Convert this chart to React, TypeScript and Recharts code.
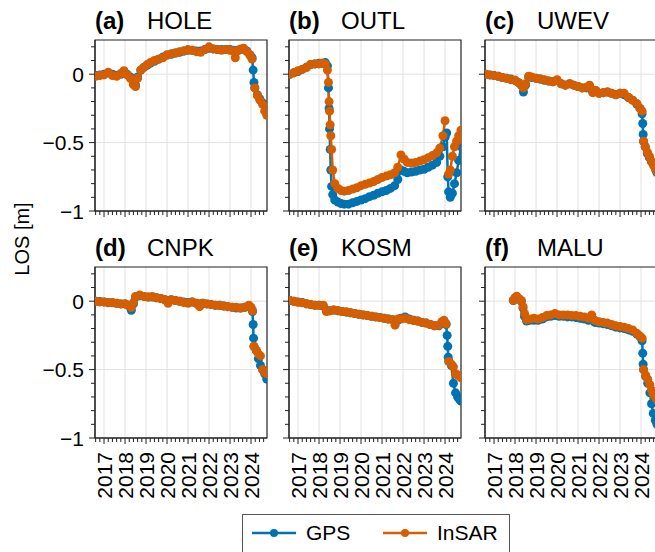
import { LineChart, Line, XAxis, YAxis, CartesianGrid, ReferenceArea } from 'recharts';

const GPS_COLOR = '#0072B2';
const INSAR_COLOR = '#D55E00';
const FONT = '"Liberation Sans", Arial, Helvetica, sans-serif';

const X_DOMAIN: [number, number] = [2016.57, 2024.76];
const Y_DOMAIN: [number, number] = [-1, 0.25];
const YEARS = [2017, 2018, 2019, 2020, 2021, 2022, 2023, 2024];
const Y_TICKS = [-1, -0.9, -0.8, -0.7, -0.6, -0.5, -0.4, -0.3, -0.2, -0.1, 0, 0.1, 0.2];
const Y_MAJOR = [-1, -0.5, 0];
const X_MINOR = [2016.6, 2016.8];
// 5 intervals per year, like the y axis
const X_TICKS = [
  ...X_MINOR,
  ...YEARS.flatMap(y => [0, 0.2, 0.4, 0.6, 0.8].map(s => Math.round((y + s) * 10) / 10)),
].filter(t => t <= X_DOMAIN[1]);

type Row = [number, number | null, number | null]; // [year, GPS, InSAR]

const HOLE: Row[] = [
  [2016.6, -0.01, -0.015], [2016.8, -0.005, -0.01], [2017.0, 0.0, -0.005], [2017.2, 0.01, 0.015],
  [2017.4, 0.0, -0.01], [2017.6, -0.01, -0.015], [2017.8, 0.0, 0.005], [2017.95, 0.02, 0.025],
  [2018.1, 0.0, -0.005], [2018.25, -0.02, -0.03], [2018.4, -0.07, -0.075], [2018.5, -0.08, -0.09],
  [2018.6, -0.02, -0.03], [2018.75, 0.03, 0.03], [2018.9, 0.05, 0.05], [2019.05, 0.065, 0.07],
  [2019.2, 0.08, 0.085], [2019.4, 0.095, 0.1], [2019.6, 0.11, 0.11], [2019.8, 0.125, 0.12],
  [2020.0, 0.14, 0.14], [2020.2, 0.145, 0.15], [2020.4, 0.155, 0.155], [2020.6, 0.16, 0.165],
  [2020.8, 0.17, 0.17], [2021.0, 0.175, 0.18], [2021.2, 0.175, 0.175], [2021.4, 0.17, 0.165],
  [2021.6, 0.17, 0.16], [2021.8, 0.18, 0.18], [2022.0, 0.19, 0.2], [2022.2, 0.185, 0.185],
  [2022.4, 0.18, 0.18], [2022.6, 0.18, 0.175], [2022.8, 0.18, 0.18], [2023.0, 0.18, 0.175],
  [2023.15, 0.175, 0.17], [2023.25, 0.17, 0.12], [2023.35, 0.175, 0.17], [2023.5, 0.18, 0.185],
  [2023.65, 0.185, 0.19], [2023.8, 0.17, 0.165], [2023.95, 0.14, 0.14], [2024.05, 0.12, 0.11],
  [2024.1, 0.03, null], [2024.14, -0.06, null], [2024.18, -0.1, -0.1], [2024.3, -0.15, -0.155],
  [2024.42, -0.18, -0.19], [2024.55, -0.21, -0.22], [2024.65, -0.23, -0.27], [2024.75, -0.25, -0.3],
];

const OUTL: Row[] = [
  [2016.6, 0.0, 0.0], [2016.8, 0.01, 0.01], [2017.0, 0.02, 0.025], [2017.2, 0.035, 0.035],
  [2017.4, 0.05, 0.05], [2017.6, 0.07, 0.07], [2017.8, 0.075, 0.075], [2018.0, 0.08, 0.075],
  [2018.15, 0.08, 0.08], [2018.3, 0.085, 0.075], [2018.4, 0.06, 0.03], [2018.45, -0.1, -0.06],
  [2018.48, -0.25, -0.2], [2018.5, -0.4, -0.27], [2018.53, -0.55, -0.37], [2018.56, -0.7, -0.45],
  [2018.6, -0.82, -0.55], [2018.65, -0.88, -0.7], [2018.75, -0.92, -0.8], [2018.9, -0.935, -0.835],
  [2019.05, -0.945, -0.85], [2019.2, -0.95, -0.855], [2019.4, -0.95, -0.85], [2019.6, -0.94, -0.84],
  [2019.8, -0.93, -0.83], [2020.0, -0.92, -0.815], [2020.2, -0.91, -0.805], [2020.4, -0.895, -0.795],
  [2020.6, -0.885, -0.785], [2020.8, -0.87, -0.77], [2021.0, -0.86, -0.755], [2021.2, -0.85, -0.745],
  [2021.4, -0.835, -0.735], [2021.6, -0.815, -0.72], [2021.75, -0.77, -0.68], [2021.9, -0.7, -0.59],
  [2022.05, -0.71, -0.62], [2022.2, -0.72, -0.645], [2022.4, -0.715, -0.65], [2022.6, -0.71, -0.645],
  [2022.8, -0.7, -0.635], [2023.0, -0.695, -0.625], [2023.2, -0.68, -0.61], [2023.4, -0.665, -0.595],
  [2023.6, -0.645, -0.575], [2023.75, -0.6, -0.54], [2023.9, -0.53, -0.45], [2024.0, -0.46, -0.34],
  [2024.08, -0.43, null], [2024.13, -0.75, null], [2024.17, -0.86, -0.73], [2024.25, -0.9, -0.7],
  [2024.35, -0.87, -0.6], [2024.45, -0.8, -0.53], [2024.55, -0.72, -0.49], [2024.65, -0.63, -0.45],
  [2024.76, -0.53, -0.41],
];

const UWEV: Row[] = [
  [2016.6, 0.0, 0.0], [2016.8, -0.005, -0.005], [2017.0, -0.01, -0.01], [2017.2, -0.015, -0.015],
  [2017.4, -0.025, -0.025], [2017.6, -0.03, -0.03], [2017.8, -0.035, -0.04], [2018.0, -0.045, -0.045],
  [2018.15, -0.06, -0.06], [2018.3, -0.08, -0.08], [2018.4, -0.13, -0.1], [2018.5, -0.08, -0.07],
  [2018.65, -0.02, -0.015], [2018.8, -0.025, -0.02], [2019.0, -0.03, -0.03], [2019.2, -0.035, -0.035],
  [2019.4, -0.045, -0.04], [2019.6, -0.05, -0.05], [2019.8, -0.055, -0.055], [2020.0, -0.045, -0.04],
  [2020.2, -0.07, -0.07], [2020.4, -0.08, -0.08], [2020.6, -0.07, -0.07], [2020.8, -0.08, -0.08],
  [2021.0, -0.09, -0.09], [2021.2, -0.1, -0.1], [2021.4, -0.1, -0.095], [2021.55, -0.085, -0.08],
  [2021.7, -0.13, -0.135], [2021.85, -0.12, -0.12], [2022.0, -0.14, -0.14], [2022.2, -0.135, -0.135],
  [2022.4, -0.13, -0.13], [2022.6, -0.14, -0.14], [2022.8, -0.15, -0.15], [2023.0, -0.14, -0.14],
  [2023.2, -0.15, -0.14], [2023.4, -0.17, -0.17], [2023.6, -0.19, -0.19], [2023.8, -0.22, -0.215],
  [2023.95, -0.25, -0.25], [2024.05, -0.29, -0.27], [2024.08, -0.36, null], [2024.1, -0.44, null],
  [2024.12, -0.49, -0.49], [2024.2, -0.53, -0.53], [2024.3, -0.58, -0.57], [2024.4, -0.61, -0.6],
  [2024.5, -0.64, -0.64], [2024.6, -0.66, -0.67], [2024.7, -0.7, -0.69], [2024.76, -0.72, -0.71],
];

const CNPK: Row[] = [
  [2016.6, 0.0, 0.0], [2016.8, -0.003, -0.005], [2017.0, -0.005, -0.005], [2017.2, -0.01, -0.012],
  [2017.4, -0.012, -0.01], [2017.6, -0.015, -0.015], [2017.8, -0.02, -0.02], [2018.0, -0.02, -0.018],
  [2018.15, -0.03, -0.03], [2018.3, -0.066, -0.046], [2018.4, -0.02, -0.01], [2018.5, 0.03, 0.035],
  [2018.7, 0.04, 0.045], [2018.9, 0.035, 0.035], [2019.1, 0.03, 0.03], [2019.3, 0.03, 0.035],
  [2019.5, 0.025, 0.025], [2019.7, 0.02, 0.02], [2019.9, 0.01, 0.01], [2020.05, 0.005, -0.015],
  [2020.2, 0.01, 0.01], [2020.4, 0.005, 0.005], [2020.6, 0.0, 0.0], [2020.8, -0.005, -0.01],
  [2021.0, -0.01, -0.015], [2021.2, -0.005, -0.005], [2021.4, -0.015, -0.015], [2021.55, -0.02, -0.04],
  [2021.7, -0.015, -0.015], [2021.9, -0.02, -0.02], [2022.1, -0.025, -0.025], [2022.3, -0.03, -0.03],
  [2022.5, -0.03, -0.03], [2022.7, -0.035, -0.035], [2022.9, -0.04, -0.04], [2023.1, -0.045, -0.045],
  [2023.3, -0.05, -0.045], [2023.5, -0.05, -0.05], [2023.7, -0.045, -0.045], [2023.9, -0.035, -0.03],
  [2024.0, -0.05, -0.045], [2024.07, -0.075, -0.07], [2024.1, -0.17, null], [2024.12, -0.27, null],
  [2024.14, -0.33, -0.33], [2024.25, -0.36, -0.36], [2024.35, -0.42, -0.385], [2024.45, -0.47, -0.4],
  [2024.55, -0.5, -0.5], [2024.65, -0.53, -0.52], [2024.75, -0.57, -0.53],
];

const KOSM: Row[] = [
  [2016.6, 0.005, 0.007], [2016.8, 0.0, 0.0], [2017.0, -0.005, -0.008], [2017.2, -0.01, -0.012],
  [2017.4, -0.018, -0.02], [2017.6, -0.025, -0.025], [2017.8, -0.03, -0.03], [2018.0, -0.03, -0.03],
  [2018.2, -0.035, -0.03], [2018.35, -0.07, -0.075], [2018.5, -0.07, -0.07], [2018.7, -0.065, -0.065],
  [2018.9, -0.07, -0.07], [2019.1, -0.075, -0.075], [2019.3, -0.08, -0.078], [2019.5, -0.085, -0.085],
  [2019.7, -0.09, -0.09], [2019.9, -0.095, -0.095], [2020.1, -0.1, -0.1], [2020.3, -0.105, -0.105],
  [2020.5, -0.11, -0.11], [2020.7, -0.115, -0.115], [2020.9, -0.12, -0.12], [2021.1, -0.125, -0.125],
  [2021.3, -0.13, -0.13], [2021.5, -0.135, -0.135], [2021.62, -0.15, -0.175], [2021.75, -0.14, -0.13],
  [2021.9, -0.125, -0.13], [2022.1, -0.115, -0.125], [2022.3, -0.13, -0.135], [2022.5, -0.14, -0.14],
  [2022.7, -0.145, -0.145], [2022.9, -0.155, -0.155], [2023.1, -0.16, -0.16], [2023.3, -0.17, -0.17],
  [2023.5, -0.18, -0.18], [2023.7, -0.18, -0.175], [2023.85, -0.16, -0.15], [2023.95, -0.145, -0.14],
  [2024.05, -0.17, -0.165], [2024.1, -0.25, null], [2024.13, -0.33, null], [2024.15, -0.41, null],
  [2024.18, -0.44, -0.44], [2024.3, -0.47, -0.46], [2024.4, -0.6, -0.48], [2024.5, -0.67, -0.53],
  [2024.6, -0.7, -0.54], [2024.7, -0.72, -0.55], [2024.76, -0.73, -0.56],
];

const MALU: Row[] = [
  [2017.92, 0.005, 0.007], [2018.0, 0.02, 0.025], [2018.08, 0.03, 0.036], [2018.18, 0.015, 0.02],
  [2018.3, 0.0, 0.005], [2018.38, -0.05, -0.04], [2018.45, -0.11, -0.09], [2018.55, -0.145, -0.135],
  [2018.7, -0.14, -0.13], [2018.9, -0.14, -0.125], [2019.1, -0.14, -0.13], [2019.3, -0.13, -0.12],
  [2019.5, -0.115, -0.105], [2019.7, -0.11, -0.1], [2019.9, -0.105, -0.09], [2020.1, -0.11, -0.1],
  [2020.3, -0.11, -0.1], [2020.5, -0.115, -0.1], [2020.7, -0.115, -0.105], [2020.9, -0.12, -0.105],
  [2021.1, -0.125, -0.11], [2021.3, -0.13, -0.115], [2021.5, -0.14, -0.125], [2021.65, -0.12, -0.1],
  [2021.8, -0.155, -0.14], [2022.0, -0.16, -0.15], [2022.2, -0.165, -0.155], [2022.4, -0.17, -0.16],
  [2022.6, -0.18, -0.17], [2022.8, -0.19, -0.18], [2023.0, -0.195, -0.185], [2023.2, -0.2, -0.19],
  [2023.4, -0.21, -0.2], [2023.6, -0.22, -0.21], [2023.8, -0.24, -0.235], [2023.95, -0.26, -0.255],
  [2024.05, -0.29, -0.27], [2024.08, -0.38, null], [2024.1, -0.46, null], [2024.12, -0.5, -0.5],
  [2024.22, -0.55, -0.54], [2024.32, -0.6, -0.57], [2024.42, -0.67, -0.61], [2024.5, -0.75, -0.65],
  [2024.58, -0.82, -0.68], [2024.68, -0.87, -0.7], [2024.76, -0.9, -0.72],
];

const PANELS = [
  { tag: '(a)', name: 'HOLE', rows: HOLE, col: 0, row: 0 },
  { tag: '(b)', name: 'OUTL', rows: OUTL, col: 1, row: 0 },
  { tag: '(c)', name: 'UWEV', rows: UWEV, col: 2, row: 0 },
  { tag: '(d)', name: 'CNPK', rows: CNPK, col: 0, row: 1 },
  { tag: '(e)', name: 'KOSM', rows: KOSM, col: 1, row: 1 },
  { tag: '(f)', name: 'MALU', rows: MALU, col: 2, row: 1 },
];

// layout
const COL_X = [95, 289, 485];
const ROW_Y = [40, 267];
const PLOT_W = 172;
const PLOT_H = 171;
const AXIS_W = 60;
const AXIS_H = 70;
const PAD_T = 6;
const PAD_R = 8;
const TICK_FONT = 21;
const DOT_R = 4.5;

const isMajor = (v: number, step: number) => Math.abs(v / step - Math.round(v / step)) < 1e-6;
const fmtY = (v: number) => (v < 0 ? '\u2212' + String(Math.abs(v)) : String(v));

function YTick({ x, y, payload, showLabel }: any) {
  const major = isMajor(payload.value, 0.5);
  const len = major ? 6 : 4;
  return (
    <g>
      <line x1={x} x2={x - len} y1={y} y2={y} stroke="#222" strokeWidth={1} />
      {showLabel && major && (
        <text x={x - 11} y={y} textAnchor="end" dominantBaseline="central" fontSize={TICK_FONT} fontFamily={FONT} fill="#000">
          {fmtY(payload.value)}
        </text>
      )}
    </g>
  );
}

function XTick({ x, y, payload, showLabel }: any) {
  const major = isMajor(payload.value, 1);
  const len = major ? 6 : 4;
  return (
    <g>
      <line x1={x} x2={x} y1={y} y2={y + len} stroke="#222" strokeWidth={1} />
      {showLabel && major && (
        <text transform={`translate(${x},${y + 14}) rotate(-90)`} textAnchor="end" dy="0.36em" fontSize={TICK_FONT} fontFamily={FONT} fill="#000">
          {payload.value}
        </text>
      )}
    </g>
  );
}

function Panel({ tag, name, rows, col, row }: any) {
  const left = COL_X[col];
  const top = ROW_Y[row];
  const gps = rows.map((r: Row) => ({ t: r[0], v: r[1] }));
  const insar = rows.map((r: Row) => ({ t: r[0], v: r[2] }));
  const showX = row === 1;
  const showY = col === 0;
  return (
    <>
      <div style={{ position: 'absolute', left, top: top - 31, fontSize: 24, lineHeight: 1, whiteSpace: 'nowrap' }}>
        <span style={{ fontWeight: 'bold', display: 'inline-block', width: 52 }}>{tag}</span>
        {name}
      </div>
      <div style={{ position: 'absolute', left: left - AXIS_W, top: top - PAD_T }}>
        <LineChart
          width={AXIS_W + PLOT_W + PAD_R}
          height={PAD_T + PLOT_H + AXIS_H}
          margin={{ top: PAD_T, right: PAD_R, bottom: 0, left: 0 }}
        >
          <CartesianGrid stroke="#e2e2e2" horizontalValues={Y_MAJOR} verticalValues={YEARS} />
          <XAxis
            dataKey="t"
            type="number"
            domain={X_DOMAIN}
            ticks={X_TICKS}
            interval={0}
            allowDataOverflow
            height={AXIS_H}
            tickSize={0}
            tickMargin={0}
            tickLine={false}
            stroke="#222"
            tick={(p: any) => <XTick {...p} showLabel={showX} />}
          />
          <YAxis
            type="number"
            domain={Y_DOMAIN}
            ticks={Y_TICKS}
            interval={0}
            allowDataOverflow
            width={AXIS_W}
            tickSize={0}
            tickMargin={0}
            tickLine={false}
            stroke="#222"
            tick={(p: any) => <YTick {...p} showLabel={showY} />}
          />
          <Line data={gps} dataKey="v" type="linear" stroke={GPS_COLOR} strokeWidth={2.5}
            dot={{ r: DOT_R, fill: GPS_COLOR, stroke: GPS_COLOR, strokeWidth: 0 }} isAnimationActive={false} />
          <Line data={insar} dataKey="v" type="linear" stroke={INSAR_COLOR} strokeWidth={2.5}
            dot={{ r: DOT_R, fill: INSAR_COLOR, stroke: INSAR_COLOR, strokeWidth: 0 }} isAnimationActive={false} />
          <ReferenceArea x1={X_DOMAIN[0]} x2={X_DOMAIN[1]} y1={Y_DOMAIN[0]} y2={Y_DOMAIN[1]}
            fill="none" fillOpacity={0} stroke="#222" strokeWidth={1.2} ifOverflow="visible" />
        </LineChart>
      </div>
    </>
  );
}

function LegendBox() {
  const items = [
    { name: 'GPS', color: GPS_COLOR },
    { name: 'InSAR', color: INSAR_COLOR },
  ];
  return (
    <div style={{
      position: 'absolute', left: 242, top: 514, width: 268, height: 48, border: '1px solid #555',
      boxSizing: 'border-box', display: 'flex', paddingTop: 7, paddingLeft: 9,
    }}>
      {items.map((it, i) => (
        <div key={it.name} style={{ display: 'flex', alignItems: 'center', width: i === 0 ? 131 : undefined, height: 22 }}>
          <svg width={44} height={22}>
            <line x1={0} x2={44} y1={11} y2={11} stroke={it.color} strokeWidth={2.5} />
            <circle cx={22} cy={11} r={4} fill={it.color} />
          </svg>
          <span style={{ marginLeft: 10, fontSize: 21, lineHeight: '22px' }}>{it.name}</span>
        </div>
      ))}
    </div>
  );
}

export default function App() {
  return (
    <div style={{ position: 'absolute', left: 0, top: 0, width: 655, height: 552, overflow: 'hidden', background: '#fff', fontFamily: FONT }}>
      {PANELS.map(p => (
        <Panel key={p.name} {...p} />
      ))}
      <div style={{
        position: 'absolute', left: 22, top: 239, transform: 'translate(-50%, -50%) rotate(-90deg)',
        fontSize: 20, whiteSpace: 'nowrap',
      }}>
        LOS [m]
      </div>
      <LegendBox />
    </div>
  );
}
